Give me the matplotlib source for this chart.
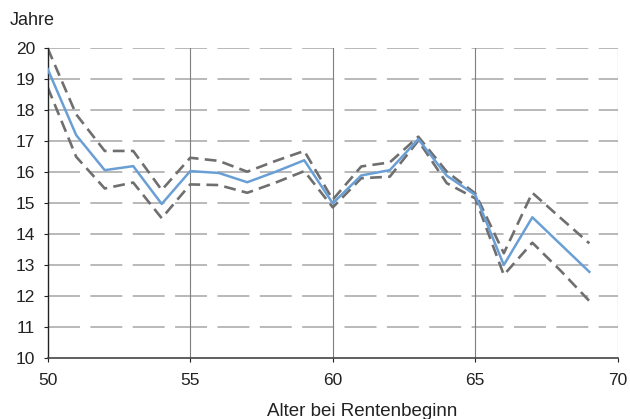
import matplotlib
matplotlib.use("Agg")
import matplotlib.pyplot as plt

plt.rcParams['font.family'] = ['Liberation Sans', 'DejaVu Sans']
plt.rcParams['lines.scale_dashes'] = False

# Alter bei Rentenbeginn
alter = list(range(50, 70))
# mittlere Restlebensdauer in Jahren
mitte = [19.31, 17.18, 16.05, 16.18, 14.96, 16.02, 15.96, 15.66, 16.0, 16.37,
         14.98, 15.88, 16.05, 17.05, 15.87, 15.25, 12.99, 14.53, 13.65, 12.77]
oben = [19.98, 17.85, 16.67, 16.67, 15.41, 16.45, 16.35, 16.0, 16.35, 16.67,
        15.1, 16.17, 16.3, 17.13, 16.0, 15.3, 13.37, 15.32, 14.5, 13.69]
unten = [18.72, 16.48, 15.46, 15.65, 14.5, 15.59, 15.57, 15.32, 15.65, 16.02,
         14.85, 15.79, 15.84, 17.0, 15.63, 15.14, 12.67, 13.71, 12.8, 11.83]

xticks = [50, 55, 60, 65, 70]
yticks = list(range(10, 21))

fig = plt.figure(figsize=(6.3, 4.19), dpi=100)
ax = fig.add_axes([0.0757, 0.1463, 0.905, 0.7398])

# Gitter
for y in yticks[1:]:
    ax.axhline(y, color='#a6a6a6', lw=1.1, dashes=(23, 7.5), zorder=1)
for x in xticks[1:]:
    ax.axvline(x, color='#7f7f7f', lw=0.8, zorder=1)

ax.plot(alter, oben, color='#6f6f6f', lw=1.9, dashes=(8.5, 4.5), zorder=2)
ax.plot(alter, unten, color='#6f6f6f', lw=1.9, dashes=(8.5, 4.5), zorder=2)
ax.plot(alter, mitte, color='#6a9fd6', lw=1.8, zorder=3)

ax.set_xlim(50, 70)
ax.set_ylim(10, 20)
ax.set_xticks(xticks)
ax.set_yticks(yticks)
ax.tick_params(labelsize=12.5, length=3, width=0.8, colors='#222222')
ax.tick_params(axis='x', pad=8)
ax.tick_params(axis='y', pad=6)
for s in ['top', 'right']:
    ax.spines[s].set_visible(False)
ax.spines['left'].set_color('#222222')
ax.spines['bottom'].set_color('#444444')
ax.spines['left'].set_linewidth(1.0)
ax.spines['bottom'].set_linewidth(1.2)

fig.text(0.016, 0.952, 'Jahre', fontsize=13, color='#222222', va='center')
fig.text(0.575, 0.006, 'Alter bei Rentenbeginn', fontsize=13.5, color='#222222',
         ha='center', va='baseline')

fig.savefig('out.png', dpi=100)
